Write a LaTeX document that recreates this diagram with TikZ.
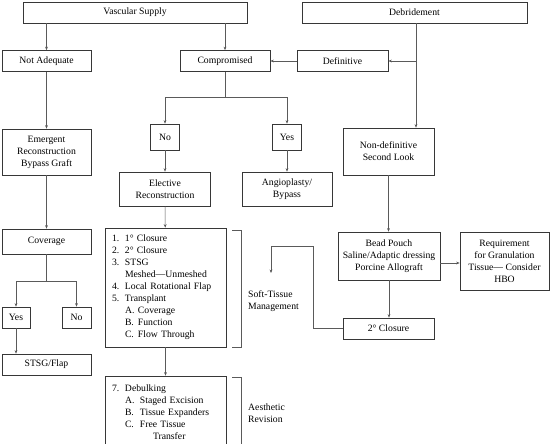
\documentclass[tikz,border=0pt]{standalone}
\usepackage{fontspec}
\setmainfont{Liberation Serif}
\usepackage{tikz}
\usetikzlibrary{positioning,arrows.meta}
\usepackage{xcolor}
\definecolor{boxline}{RGB}{55,55,55}
\definecolor{wireline}{RGB}{90,90,90}
\newcommand\listnum[1]{\makebox[13pt][l]{#1}}
\newcommand\subind{\hspace*{13pt}}

\begin{document}
\begin{tikzpicture}[x=1pt,y=-1pt,
    font=\fontsize{9.7}{12}\selectfont,
    box/.style={draw=boxline,line width=0.65pt,fill=white,align=center,inner sep=2pt},
    listbox/.style={box,align=left,inner xsep=7pt,text width=107pt},
    wire/.style={draw=wireline,line width=0.55pt},
    arr/.style={wire,-{Stealth[length=3.5pt,width=2.8pt]}}]
        \path[use as bounding box,fill=white] (0,0) rectangle (551,444);
        \clip (0,0) rectangle (551,444);

        % top row
        \node[box,minimum width=224,minimum height=21] (vs) at (135,12.5) {Vascular Supply};
        \node[box,minimum width=225,minimum height=21] (deb) at (414.5,12.5) {Debridement};
        \node[box,minimum width=89,minimum height=21] (notadq) at (46.5,61) {Not Adequate};
        \node[box,minimum width=90,minimum height=21] (comp) at (225,61) {Compromised};
        \node[box,minimum width=91,minimum height=21] (def) at (342.5,61) {Definitive};

        % middle
        \node[box,minimum width=29,minimum height=26] (no1) at (165,137) {No};
        \node[box,minimum width=29,minimum height=26] (yes1) at (287,137) {Yes};
        \node[box,minimum width=89,minimum height=46] (emerg) at (46.5,152)
          {Emergent\\Reconstruction\\Bypass Graft};
        \node[box,minimum width=91,minimum height=47] (nondef) at (388.5,151.5)
          {Non-definitive\\Second Look};
        \node[box,minimum width=91,minimum height=34] (elect) at (165,189)
          {Elective\\Reconstruction};
        \node[box,minimum width=90,minimum height=34] (angio) at (287,189)
          {Angioplasty/\\Bypass};

        % lower part
        \node[box,minimum width=89,minimum height=25] (cov) at (46.5,241.5) {Coverage};
        \node[box,minimum width=28,minimum height=21] (yes2) at (16,317.5) {Yes};
        \node[box,minimum width=29,minimum height=21] (no2) at (76.5,317.5) {No};
        \node[box,minimum width=89,minimum height=21] (stsg) at (46.5,364.5) {STSG/Flap};
        \node[listbox,minimum height=119] (list) at (165.5,287.5)
          {\listnum{1.}1° Closure\\
           \listnum{2.}2° Closure\\
           \listnum{3.}STSG\\
           \subind Meshed---Unmeshed\\
           \listnum{4.}Local Rotational Flap\\
           \listnum{5.}Transplant\\
           \subind\listnum{A.}Coverage\\
           \subind\listnum{B.}Function\\
           \subind\listnum{C.}Flow Through};
        \node[listbox,minimum height=72] (debulk) at (165.5,412)
          {\listnum{7.}Debulking\\
           \subind\makebox[15pt][l]{A.}Staged Excision\\
           \subind\makebox[15pt][l]{B.}Tissue Expanders\\
           \subind\makebox[15pt][l]{C.}Free Tissue\\
           \hspace*{41pt}Transfer};
        \node[box,minimum width=102,minimum height=48] (bead) at (389,256)
          {Bead Pouch\\Saline/Adaptic dressing\\Porcine Allograft};
        \node[box,minimum width=89,minimum height=58] (req) at (504.5,261)
          {Requirement\\for Granulation\\Tissue--- Consider\\HBO};
        \node[box,minimum width=91,minimum height=21] (c2) at (388.5,328.5) {2° Closure};

        \node[align=left,anchor=west,inner sep=0pt] (softtxt) at (248,301)
          {Soft-Tissue\\Management};
        \node[align=left,anchor=west,inner sep=0pt] (aesttxt) at (248,413)
          {Aesthetic\\Revision};

        % brackets
        \draw[wire] (232,230) -- (241,230) -- (241,347) -- (232,347);
        \draw[wire] (232,377) -- (241,377) -- (241,452);

        % connectors
        \coordinate (debj) at (416,61);
        \coordinate (compj) at (225,97);
        \coordinate (covj) at (46.5,281);
        \coordinate (loopa) at (313,246);
        \coordinate (stm) at (271,273);
        \coordinate (reqin) at (req.west |- 0,263);

        \draw[arr] (vs.south -| notadq) -- (notadq);
        \draw[arr] (vs.south -| comp) -- (comp);
        \draw[wire] (deb.south -| debj) -- (debj);
        \draw[arr] (debj) -- (def);
        \draw[arr] (debj) -- (debj |- nondef.north);
        \draw[arr] (def) -- (comp);
        \draw[wire] (comp) -- (compj);
        \draw[arr] (compj) -| (no1);
        \draw[arr] (compj) -| (yes1);
        \draw[arr] (no1) -- (elect);
        \draw[arr] (yes1) -- (angio);
        \draw[arr] (notadq) -- (emerg);
        \draw[arr] (emerg) -- (cov);
        \draw[wire] (cov) -- (covj);
        \draw[arr] (covj) -| (yes2);
        \draw[arr] (covj) -| (no2);
        \draw[arr] (yes2) -- (yes2 |- stsg.north);
        \draw[arr] (elect) -- (list);
        \draw[arr] (list) -- (debulk);
        \draw[arr] (nondef) -- (nondef |- bead.north);
        \draw[arr] (bead.east |- reqin) -- (reqin);
        \draw[arr] (bead) -- (bead |- c2.north);
        \draw[arr] (c2.west) -| (loopa) -| (stm);
      \end{tikzpicture}
\end{document}
